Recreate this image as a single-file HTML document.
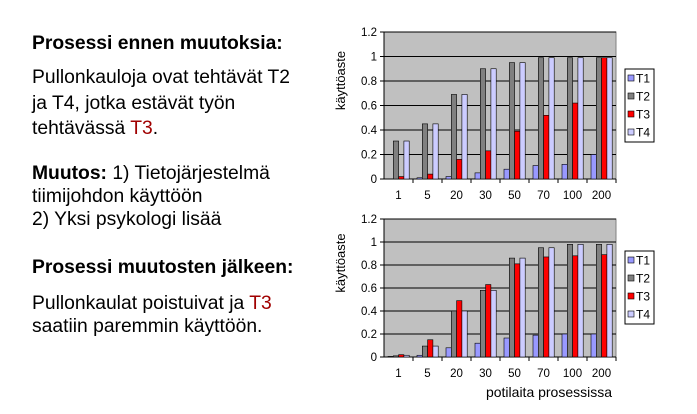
<!DOCTYPE html>
<html><head><meta charset="utf-8"><style>
body{margin:0;width:697px;height:414px;background:#fff;overflow:hidden;font-family:"Liberation Sans",sans-serif;position:relative}
.t{position:absolute;left:32px;font-size:19.3px;line-height:20px;white-space:nowrap;color:#000}
.b{font-weight:bold}.r{color:#a00000}
</style></head><body>
<div class="t b" style="top:34px">Prosessi ennen muutoksia:</div>
<div class="t" style="top:68px">Pullonkauloja ovat tehtävät T2</div>
<div class="t" style="top:94px">ja T4, jotka estävät työn</div>
<div class="t" style="top:119px">tehtävässä <span class="r">T3</span>.</div>
<div class="t" style="top:164px"><b>Muutos:</b> 1) Tietojärjestelmä</div>
<div class="t" style="top:187px">tiimijohdon käyttöön</div>
<div class="t" style="top:210px">2) Yksi psykologi lisää</div>
<div class="t b" style="top:258px">Prosessi muutosten jälkeen:</div>
<div class="t" style="top:294px">Pullonkaulat poistuivat ja <span class="r">T3</span></div>
<div class="t" style="top:317px">saatiin paremmin käyttöön.</div>
<svg id="s" width="697" height="414" style="position:absolute;left:0;top:0"></svg>
<script>
const categories=["1","5","20","30","50","70","100","200"];
const ticks=[0,0.2,0.4,0.6,0.8,1,1.2];
const tickLabels=["0","0.2","0.4","0.6","0.8","1","1.2"];
const seriesNames=["T1","T2","T3","T4"];
const beforeT1=[0,0.01,0.02,0.05,0.08,0.11,0.12,0.2];
const beforeT2=[0.31,0.45,0.69,0.9,0.95,0.99,0.99,0.99];
const beforeT3=[0.02,0.04,0.16,0.23,0.39,0.52,0.62,0.99];
const beforeT4=[0.31,0.45,0.69,0.9,0.95,0.99,0.99,0.99];
const afterT1=[0.005,0.015,0.08,0.12,0.165,0.19,0.2,0.2];
const afterT2=[0.01,0.095,0.4,0.58,0.86,0.95,0.98,0.98];
const afterT3=[0.02,0.15,0.49,0.63,0.81,0.87,0.88,0.89];
const afterT4=[0.015,0.095,0.4,0.58,0.86,0.95,0.98,0.98];
const colors=["#9999ff","#808080","#ff0000","#ccccff"];
const NS="http://www.w3.org/2000/svg",svg=document.getElementById('s');
function mk(tag,at,parent){const e=document.createElementNS(NS,tag);for(const k in at)e.setAttribute(k,at[k]);(parent||svg).appendChild(e);return e;}
function chart(name,top,bottom,series,legTop,xTitle){
  const g=mk('g',{});
  
  
  const x0=384,x1=616;
  const y=v=>bottom-(v/1.2)*(bottom-top);
  const gw=(x1-x0)/categories.length;
  const bg=mk('rect',{x:x0,y:top,width:x1-x0,height:bottom-top,fill:'#c0c0c0',stroke:'#808080'},g);
  
  
  ticks.forEach((t,i)=>{
    if(t>0){const l=mk('line',{x1:x0,x2:x1,y1:y(t),y2:y(t),stroke:'#000','stroke-width':1},g);
    
    }
    mk('line',{x1:x0-4,x2:x0,y1:y(t),y2:y(t),stroke:'#000'},g);
    const tx=mk('text',{x:x0-7,y:y(t)+4,'text-anchor':'end','font-size':11.5,'font-family':'Liberation Sans'},g);
    tx.textContent=tickLabels[i];
    
    
  });
  mk('line',{x1:x0,x2:x0,y1:top,y2:bottom,stroke:'#000'},g);
  mk('line',{x1:x0,x2:x1,y1:bottom,y2:bottom,stroke:'#000'},g);
  const bw=5.3;
  categories.forEach((c,ci)=>{
    const gx=x0+ci*gw;
    mk('line',{x1:gx+gw,x2:gx+gw,y1:bottom,y2:bottom+4,stroke:'#000'},g);
    series.forEach((s,si)=>{
      const v=s[ci],bx=gx+4+si*bw;
      const r=mk('rect',{x:bx,y:y(v),width:bw,height:bottom-y(v),fill:colors[si],stroke:'#000','stroke-width':0.6},g);
      
      
    });
    const tx=mk('text',{x:gx+gw/2,y:bottom+20,'text-anchor':'middle','font-size':11.5,'font-family':'Liberation Sans'},g);
    tx.textContent=c;
    
    
  });
  const yt=mk('text',{x:0,y:0,transform:`translate(345,${(top+bottom)/2-25}) rotate(-90)`,'text-anchor':'middle','font-size':13,'font-family':'Liberation Sans'},g);
  yt.textContent='käyttöaste';
  
  
  const lg=mk('g',{},g);
  
  
  mk('rect',{x:625,y:legTop,width:29,height:73,fill:'#fff',stroke:'#000'},lg);
  seriesNames.forEach((n,i)=>{
    const ly=legTop+10+i*18;
    mk('rect',{x:628,y:ly-4,width:6,height:6,fill:colors[i],stroke:'#000','stroke-width':0.6},lg);
    const t=mk('text',{x:636,y:ly+3.5,'font-size':12,'font-family':'Liberation Sans'},lg);
    t.textContent=n;
    
    
  });
  if(xTitle){const t=mk('text',{x:549,y:397,'text-anchor':'middle','font-size':14,'font-family':'Liberation Sans'},g);
    t.textContent=xTitle;
    
    }
}
chart('chart-before',32,179,[beforeT1,beforeT2,beforeT3,beforeT4],69,null);
chart('chart-after',219,357,[afterT1,afterT2,afterT3,afterT4],251,'potilaita prosessissa');
</script>
</body></html>
